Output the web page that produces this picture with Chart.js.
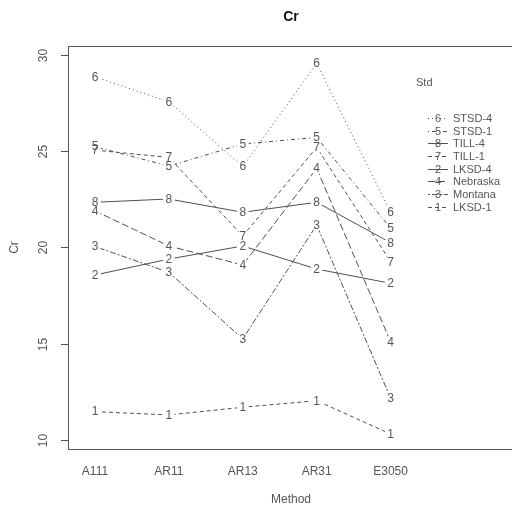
<!DOCTYPE html>
<html>
<head>
<meta charset="utf-8">
<script src="https://cdn.jsdelivr.net/npm/chart.js@4.4.1/dist/chart.umd.min.js"></script>
<style>
html, body { margin: 0; padding: 0; background: #fff; }
#wrap { width: 512px; height: 514px; }
</style>
</head>
<body>
<div id="wrap"><canvas id="myChart" width="512" height="514"></canvas></div>
<script>
// categories (x) and trace factor levels
const methods = ["A111", "AR11", "AR13", "AR31", "E3050"];
const stdNames = ["LKSD-1", "LKSD-4", "Montana", "Nebraska", "STSD-1", "STSD-4", "TILL-1", "TILL-4"];

// mean Cr per Std, in method order
const lksd1    = [11.47, 11.30, 11.70, 12.04, 10.31];
const lksd4    = [18.57, 19.40, 20.08, 18.88, 18.14];
const montana  = [20.05, 18.71, 15.25, 21.17, 12.17];
const nebraska = [21.90, 20.08, 19.09, 24.11, 15.10];
const stsd1    = [25.24, 24.23, 25.38, 25.72, 21.00];
const stsd4    = [28.87, 27.57, 24.20, 29.57, 21.83];
const till1    = [25.06, 24.68, 20.60, 25.20, 19.26];
const till4    = [22.35, 22.52, 21.83, 22.35, 20.25];

const yTicks = [10, 15, 20, 25, 30];
// legend lists levels by value at last method, highest first
const legendOrder = [5, 4, 7, 6, 1, 3, 2, 0];

const seriesValues = [lksd1, lksd4, montana, nebraska, stsd1, stsd4, till1, till4];

// R lty 1..6 -> canvas dash
const ltyDash = {
    1: [],
    2: [4, 3],
    3: [1, 3],
    4: [1, 3, 4, 3],
    5: [7, 3],
    6: [2, 2, 6, 2]
};
const levelLty = [2, 1, 6, 5, 4, 3, 2, 1];

const FONT = "'Liberation Sans', Arial, sans-serif";
const TXT = "#555";
const LINE = "#505050";

const datasets = stdNames.map((name, k) => ({
    label: name,
    data: seriesValues[k].map((v, i) => ({ x: i, y: v })),
    borderColor: LINE,
    borderWidth: 1,
    borderDash: ltyDash[levelLty[k]],
    pointRadius: 0,
    tension: 0,
    fill: false
}));

// R-style plot: numbers as points, lines broken around them
const rStylePlot = {
    id: "rStylePlot",
    beforeDatasetDraw(chart, args) {
        const ctx = chart.ctx;
        ctx.save();
        ctx.beginPath();
        ctx.rect(0, 0, chart.width, chart.height);
        args.meta.data.forEach(pt => {
            ctx.moveTo(pt.x + 6, pt.y);
            ctx.arc(pt.x, pt.y, 6, 0, Math.PI * 2);
        });
        ctx.clip("evenodd");
    },
    afterDatasetDraw(chart) {
        chart.ctx.restore();
    },
    afterDatasetsDraw(chart) {
        const ctx = chart.ctx;
        const area = chart.chartArea;
        const xs = chart.scales.x;
        const ys = chart.scales.y;

        ctx.save();
        ctx.fillStyle = TXT;
        ctx.textAlign = "center";
        ctx.textBaseline = "middle";
        ctx.font = "12px " + FONT;

        // numbers at the points
        chart.data.datasets.forEach((ds, k) => {
            chart.getDatasetMeta(k).data.forEach(pt => {
                ctx.fillText(String(k + 1), pt.x, pt.y + 0.5);
            });
        });

        // box (open on the right)
        ctx.strokeStyle = "#555";
        ctx.lineWidth = 1;
        ctx.beginPath();
        ctx.moveTo(chart.width, Math.round(area.top) + 0.5);
        ctx.lineTo(Math.round(area.left) + 0.5, Math.round(area.top) + 0.5);
        ctx.lineTo(Math.round(area.left) + 0.5, Math.round(area.bottom) + 0.5);
        ctx.lineTo(chart.width, Math.round(area.bottom) + 0.5);
        ctx.stroke();

        // y ticks and rotated labels
        yTicks.forEach(t => {
            const y = Math.round(ys.getPixelForValue(t)) + 0.5;
            ctx.beginPath();
            ctx.moveTo(area.left - 7, y);
            ctx.lineTo(area.left, y);
            ctx.stroke();
            ctx.save();
            ctx.translate(44, y);
            ctx.rotate(-Math.PI / 2);
            ctx.fillText(String(t), 0, 0);
            ctx.restore();
        });

        // x category labels
        methods.forEach((m, i) => {
            ctx.fillText(m, xs.getPixelForValue(i), 472);
        });

        // axis titles
        const midX = (area.left + area.right) / 2 + 1;
        ctx.fillText("Method", midX, 500);
        ctx.save();
        ctx.translate(15, ys.getPixelForValue(20));
        ctx.rotate(-Math.PI / 2);
        ctx.fillText("Cr", 0, 0);
        ctx.restore();

        ctx.fillStyle = "#111";
        ctx.font = "bold 14px " + FONT;
        ctx.fillText("Cr", midX, 17);

        // legend
        ctx.fillStyle = TXT;
        ctx.font = "11px " + FONT;
        ctx.textAlign = "left";
        ctx.fillText("Std", 416, 83);
        legendOrder.forEach((k, r) => {
            const y = Math.round(118 + r * 12.65) + 0.5;
            ctx.strokeStyle = LINE;
            ctx.setLineDash(ltyDash[levelLty[k]]);
            ctx.beginPath();
            ctx.moveTo(428, y);
            ctx.lineTo(448, y);
            ctx.stroke();
            ctx.setLineDash([]);
            ctx.textAlign = "center";
            ctx.fillText(String(k + 1), 438, y + 0.5);
            ctx.textAlign = "left";
            ctx.fillText(stdNames[k], 453, y + 0.5);
        });
        ctx.restore();
    }
};

new Chart(document.getElementById("myChart").getContext("2d"), {
    type: "line",
    data: { datasets: datasets },
    options: {
        responsive: false,
        animation: false,
        layout: { padding: { left: 68, top: 46, right: 0, bottom: 65 } },
        scales: {
            x: { type: "linear", min: -0.365, max: 5.643, display: false },
            y: { min: 9.53, max: 30.47, display: false }
        },
        plugins: {
            legend: { display: false },
            tooltip: { enabled: false }
        }
    },
    plugins: [rStylePlot]
});
</script>
</body>
</html>
